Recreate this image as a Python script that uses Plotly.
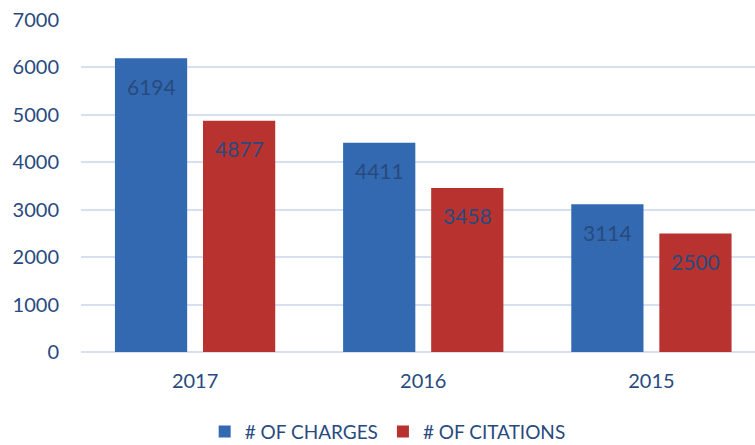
import plotly.graph_objects as go

years = ["2017", "2016", "2015"]
charges = [6194, 4411, 3114]
citations = [4877, 3458, 2500]
y_ticks = [0, 1000, 2000, 3000, 4000, 5000, 6000, 7000]

TEXT = "#284a7e"
FONT = "Lato"

fig = go.Figure()
fig.add_bar(name="# OF CHARGES", x=years, y=charges,
            marker=dict(color="#3369b0", line=dict(width=0)))
fig.add_bar(name="# OF CITATIONS", x=years, y=citations,
            marker=dict(color="#b8332f", line=dict(width=0)))

for i, yr in enumerate(years):
    for val, shift in ((charges[i], -44), (citations[i], 44)):
        fig.add_annotation(x=i, y=val, xref="x", yref="y", text=str(val), showarrow=False,
                           xshift=shift, yshift=-28,
                           font=dict(family=FONT, size=21, color=TEXT))

fig.update_layout(
    width=755, height=445,
    margin=dict(l=81, r=0, t=20, b=93, autoexpand=False),
    paper_bgcolor="white", plot_bgcolor="white",
    barmode="group", bargap=0.228, bargroupgap=0.18,
    font=dict(family=FONT, size=20, color=TEXT),
    showlegend=True,
    legend=dict(orientation="h", x=0.455, xanchor="center", y=-0.24, yanchor="middle",
                font=dict(family=FONT, size=19, color=TEXT), itemwidth=30,
                bgcolor="rgba(0,0,0,0)", tracegroupgap=0),
    xaxis=dict(type="category", range=[-0.5, 2.454], showgrid=False, showline=False,
               ticks="", ticklabelstandoff=15, tickfont=dict(size=20, color=TEXT)),
    yaxis=dict(range=[0, 7000], tickvals=y_ticks, showgrid=True, gridcolor="#d6e0f0",
               gridwidth=2, zeroline=True, zerolinecolor="#d6e0f0", zerolinewidth=2,
               showline=False, ticks="", ticklabelstandoff=21,
               tickfont=dict(size=20, color=TEXT)),
)

fig.write_html("out.html", config={"displayModeBar": False})
with open("out.html", encoding="utf-8") as f:
    html = f.read()
html = html.replace("<body>", '<body style="margin:0;padding:0;overflow:hidden">', 1)
with open("out.html", "w", encoding="utf-8") as f:
    f.write(html)
